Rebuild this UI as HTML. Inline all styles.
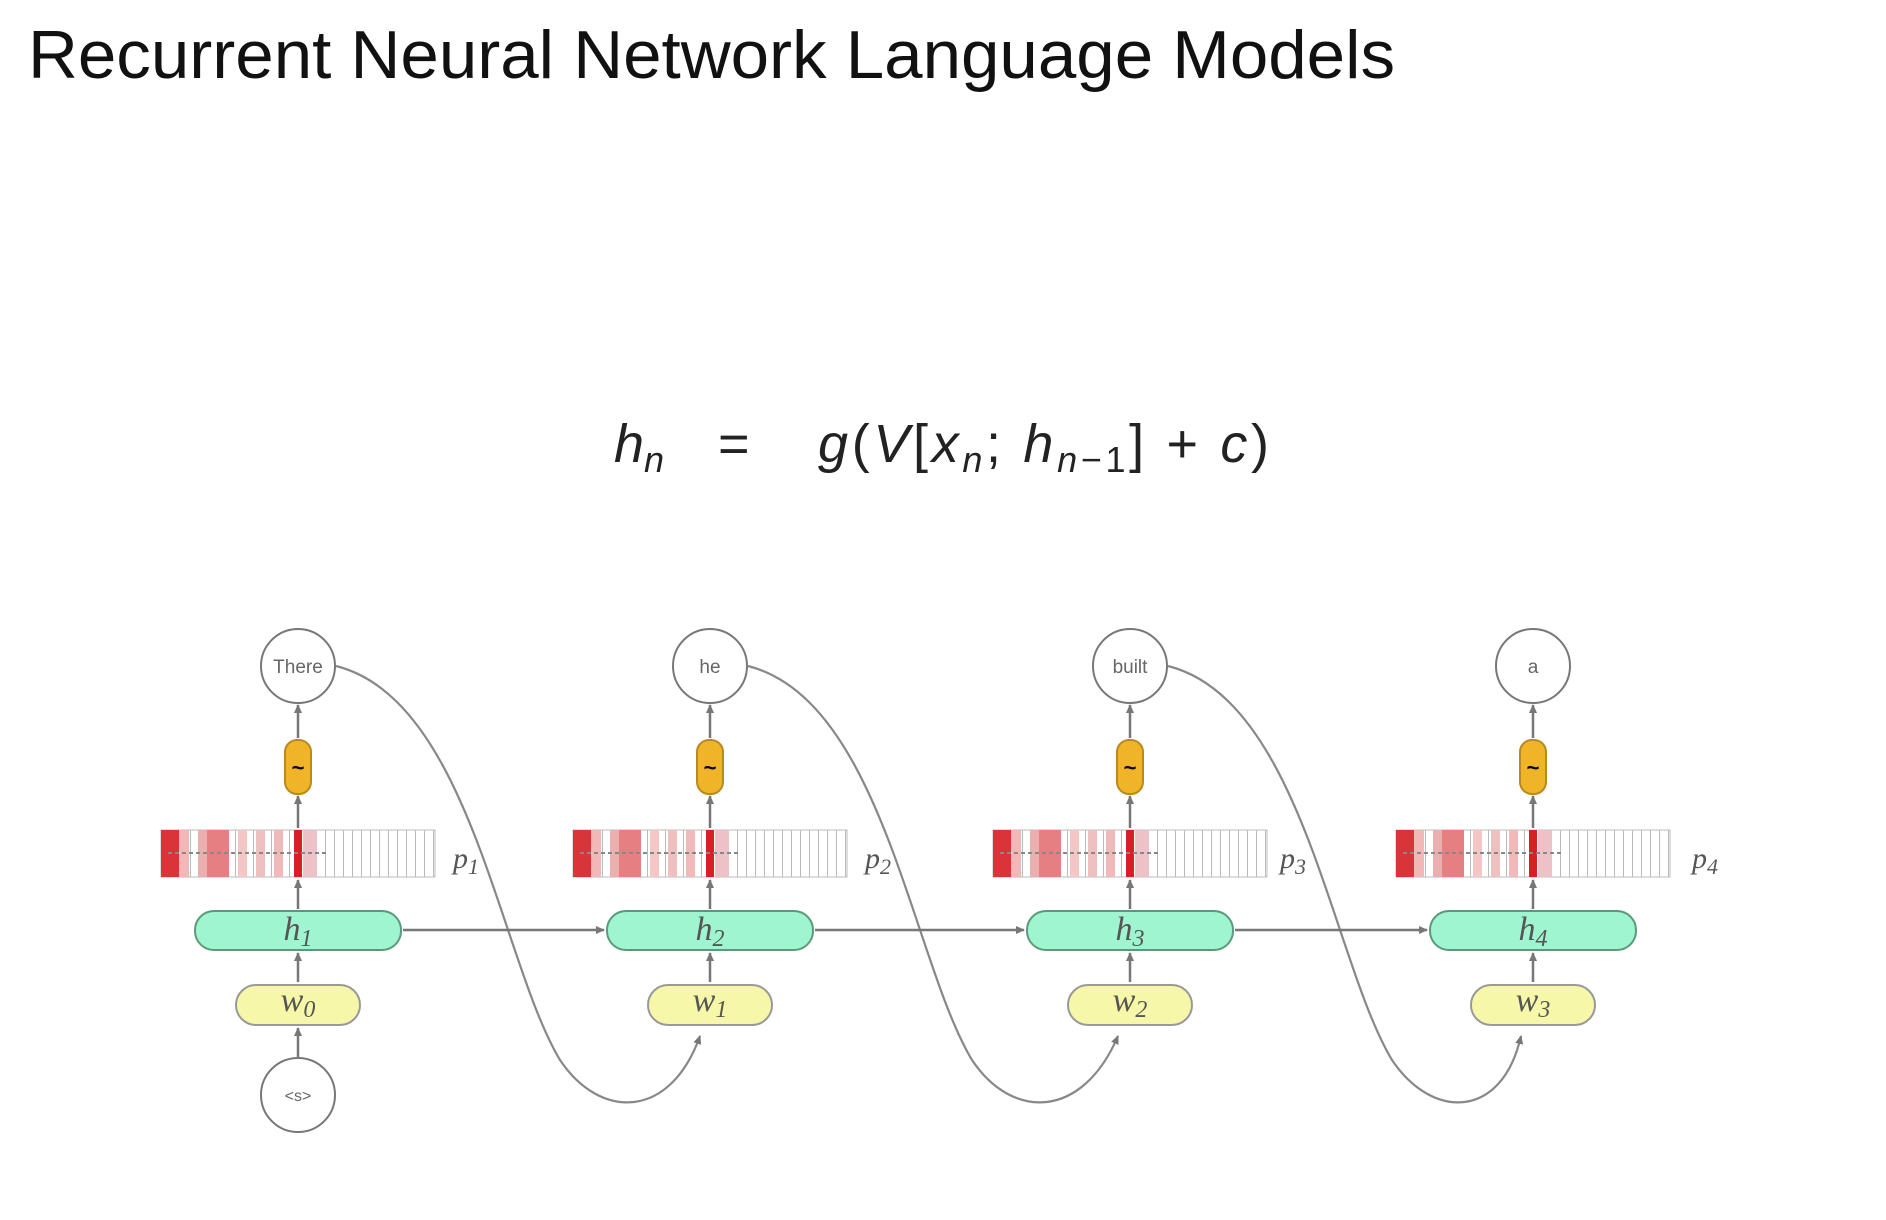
<!DOCTYPE html>
<html><head><meta charset="utf-8"><style>
html,body{margin:0;padding:0;background:#fff;}
svg{display:block}
</style></head><body>
<svg width="1886" height="1220" viewBox="0 0 1886 1220" xmlns="http://www.w3.org/2000/svg">
<defs>
<marker id="ar" markerWidth="10" markerHeight="10" refX="8" refY="5" orient="auto" markerUnits="userSpaceOnUse">
<path d="M0,1 L9,5 L0,9 z" fill="#777"/></marker>
<pattern id="cells" width="9" height="47" patternUnits="userSpaceOnUse"><rect width="9" height="47" fill="#fff"/><line x1="0.5" y1="0" x2="0.5" y2="47" stroke="#bbb" stroke-width="1"/></pattern>
<g id="bar">
<rect x="-137" y="0" width="274" height="47" fill="url(#cells)" stroke="#bbb"/>
<rect x="-137" y="0" width="18" height="47" fill="#d9343a"/>
<rect x="-119" y="0" width="10" height="47" fill="#f2b7b7"/>
<rect x="-100" y="0" width="9" height="47" fill="#eab0b0"/>
<rect x="-91" y="0" width="22" height="47" fill="#e57f82"/>
<rect x="-60" y="0" width="9" height="47" fill="#f4c6c6"/>
<rect x="-42" y="0" width="9" height="47" fill="#efc0c0"/>
<rect x="-24" y="0" width="9" height="47" fill="#f1b9b9"/>
<rect x="-4" y="0" width="8" height="47" fill="#d81f26"/>
<rect x="5" y="0" width="14" height="47" fill="#ecc2c8"/>
<line x1="-130" y1="23" x2="30" y2="23" stroke="#888" stroke-width="2" stroke-dasharray="4 3"/>
</g>
<g id="col">
<line x1="0" y1="909" x2="0" y2="880" stroke="#777" stroke-width="2.5" marker-end="url(#ar)"/>
<line x1="0" y1="828" x2="0" y2="796" stroke="#777" stroke-width="2.5" marker-end="url(#ar)"/>
<line x1="0" y1="738" x2="0" y2="705" stroke="#777" stroke-width="2.5" marker-end="url(#ar)"/>
<line x1="0" y1="982" x2="0" y2="953" stroke="#777" stroke-width="2.5" marker-end="url(#ar)"/>
<use href="#bar" y="830"/>
<rect x="-13" y="740" width="26" height="54" rx="12" fill="#f0b429" stroke="#b88a20" stroke-width="2"/>
<text x="0" y="775" font-family="Liberation Sans,sans-serif" font-size="22" text-anchor="middle" font-weight="bold">~</text>
<circle cx="0" cy="666" r="37" fill="#fff" stroke="#777" stroke-width="2"/>
<rect x="-103" y="911" width="206" height="39" rx="19" fill="#9ff5cf" stroke="#5a9a7a" stroke-width="2"/>
<rect x="-62" y="985" width="124" height="40" rx="20" fill="#f7f7a9" stroke="#999" stroke-width="2"/>
</g>
</defs>
<text x="28" y="78" font-family="Liberation Sans,sans-serif" font-size="68" textLength="1367" lengthAdjust="spacingAndGlyphs" fill="#111">Recurrent Neural Network Language Models</text>
<g font-family="Liberation Sans,sans-serif" font-style="italic" font-size="54" fill="#222">
<text x="614" y="462">h<tspan font-size="36" dy="10">n</tspan></text>
<text x="718" y="462" font-style="normal">=</text>
<text x="818" y="462" textLength="451" lengthAdjust="spacing">g<tspan font-style="normal">(</tspan>V<tspan font-style="normal">[</tspan>x<tspan font-size="36" dy="10">n</tspan><tspan dy="-10" font-style="normal">;</tspan> h<tspan font-size="36" dy="10">n<tspan font-style="normal">−1</tspan></tspan><tspan dy="-10" font-style="normal">] + </tspan>c<tspan font-style="normal">)</tspan></text>
</g>
<g fill="none" stroke="#888" stroke-width="2.2">
<path d="M336,666 C470,700 500,960 560,1060 C600,1120 670,1120 700,1036" marker-end="url(#ar)"/>
<path d="M748,666 C882,700 912,960 972,1060 C1012,1120 1082,1120 1118,1036" marker-end="url(#ar)"/>
<path d="M1168,666 C1302,700 1332,960 1392,1060 C1432,1120 1502,1120 1521,1036" marker-end="url(#ar)"/>
</g>
<g stroke="#777" stroke-width="2.5">
<line x1="403" y1="930" x2="604" y2="930" marker-end="url(#ar)"/>
<line x1="815" y1="930" x2="1024" y2="930" marker-end="url(#ar)"/>
<line x1="1235" y1="930" x2="1427" y2="930" marker-end="url(#ar)"/>
<line x1="298" y1="1057" x2="298" y2="1028" marker-end="url(#ar)"/>
</g>
<use href="#col" x="298"/><use href="#col" x="710"/><use href="#col" x="1130"/><use href="#col" x="1533"/>
<circle cx="298" cy="1095" r="37" fill="#fff" stroke="#777" stroke-width="2"/>
<g font-family="Liberation Sans,sans-serif" font-size="19" fill="#666" text-anchor="middle">
<text x="298" y="673">There</text><text x="710" y="673">he</text><text x="1130" y="673">built</text><text x="1533" y="673">a</text>
<text x="298" y="1101" font-size="16">&lt;s&gt;</text>
</g>
<g font-family="Liberation Serif,serif" font-style="italic" font-size="34" fill="#555" text-anchor="middle">
<text x="298" y="940">h<tspan font-size="24" dy="6">1</tspan></text>
<text x="710" y="940">h<tspan font-size="24" dy="6">2</tspan></text>
<text x="1130" y="940">h<tspan font-size="24" dy="6">3</tspan></text>
<text x="1533" y="940">h<tspan font-size="24" dy="6">4</tspan></text>
<text x="298" y="1011">w<tspan font-size="24" dy="6">0</tspan></text>
<text x="710" y="1011">w<tspan font-size="24" dy="6">1</tspan></text>
<text x="1130" y="1011">w<tspan font-size="24" dy="6">2</tspan></text>
<text x="1533" y="1011">w<tspan font-size="24" dy="6">3</tspan></text>
<text x="466" y="868" font-size="30">p<tspan font-size="22" dy="6">1</tspan></text>
<text x="878" y="868" font-size="30">p<tspan font-size="22" dy="6">2</tspan></text>
<text x="1293" y="868" font-size="30">p<tspan font-size="22" dy="6">3</tspan></text>
<text x="1705" y="868" font-size="30">p<tspan font-size="22" dy="6">4</tspan></text>
</g>
</svg>
</body></html>
